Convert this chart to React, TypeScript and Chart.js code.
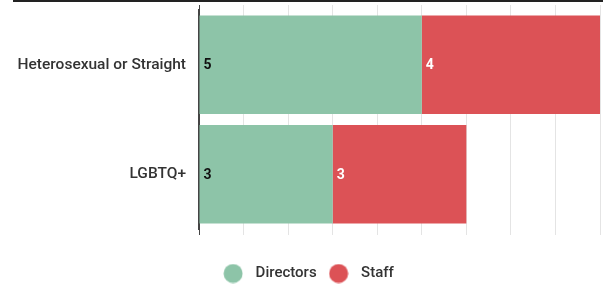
import React, { useEffect, useRef } from 'react';
import { Chart, registerables } from 'chart.js';

Chart.register(...registerables);

const categories = ['Heterosexual or Straight', 'LGBTQ+'];
const directors = [5, 3];
const staff = [4, 3];
const seriesNames = ['Directors', 'Staff'];
const seriesColors = ['#8dc4a8', '#dc5256'];
const valueLabelColors = ['#111111', '#ffffff'];
const xMin = 0;
const xMax = 9;

function makeDot(color: string) {
  const c = document.createElement('canvas');
  c.width = 20;
  c.height = 20;
  const g = c.getContext('2d')!;
  g.fillStyle = color;
  g.beginPath();
  g.arc(10, 10, 9.5, 0, Math.PI * 2);
  g.fill();
  return c;
}

const valueLabels = {
  id: 'valueLabels',
  afterDatasetsDraw(chart: any) {
    const ctx = chart.ctx;
    ctx.save();
    ctx.font = 'bold 14px Roboto';
    ctx.textBaseline = 'middle';
    ctx.textAlign = 'left';
    chart.data.datasets.forEach((ds: any, i: number) => {
      const meta = chart.getDatasetMeta(i);
      meta.data.forEach((bar: any, j: number) => {
        const p = bar.getProps(['x', 'y', 'base'], true);
        ctx.fillStyle = valueLabelColors[i];
        ctx.fillText(String(ds.data[j]), p.base + 4, p.y + 1);
      });
    });
    ctx.restore();
  },
};

export default function App() {
  const ref = useRef<HTMLCanvasElement | null>(null);

  useEffect(() => {
    if (!ref.current) return;
    Chart.defaults.font.family = 'Roboto';
    const dots = seriesColors.map(makeDot);
    const gridColor = (c: any) => (c.index === 0 ? '#444444' : '#e4e4e4');
    const chart = new Chart(ref.current, {
      type: 'bar',
      data: {
        labels: categories,
        datasets: [
          { label: seriesNames[0], data: directors, backgroundColor: seriesColors[0], borderWidth: 0, categoryPercentage: 0.9, barPercentage: 1 },
          { label: seriesNames[1], data: staff, backgroundColor: seriesColors[1], borderWidth: 0, categoryPercentage: 0.9, barPercentage: 1 },
        ],
      },
      options: {
        indexAxis: 'y',
        animation: false,
        responsive: true,
        maintainAspectRatio: false,
        layout: { autoPadding: false, padding: { top: 5, right: 3, bottom: -6, left: 12 } },
        scales: {
          x: {
            type: 'linear',
            stacked: true,
            position: 'bottom',
            min: xMin,
            max: xMax,
            ticks: { display: false, stepSize: 1 },
            grid: { color: gridColor, lineWidth: 1, tickLength: 6 },
            border: { display: false },
            title: { display: true, text: '', font: { size: 10, lineHeight: 1.2 }, padding: { top: 6, bottom: 6 } },
          },
          x2: {
            type: 'linear',
            position: 'top',
            min: xMin,
            max: xMax,
            ticks: { display: false, stepSize: 1 },
            grid: { color: gridColor, lineWidth: 1, tickLength: 5, drawOnChartArea: false },
            border: { display: false },
          },
          y: {
            stacked: true,
            grid: { display: false, drawTicks: false },
            border: { display: true, color: '#444444', width: 2 },
            ticks: { color: '#333333', font: { size: 15.5, weight: '500' }, padding: 13 },
            afterFit: (s: any) => {
              s.width = 187;
              s.paddingTop = 0;
              s.paddingBottom = 0;
            },
          },
        },
        plugins: {
          tooltip: { enabled: false },
          legend: {
            position: 'bottom',
            labels: {
              usePointStyle: true,
              pointStyleWidth: 30,
              padding: 7,
              color: '#333333',
              font: { size: 15, weight: '500' },
              generateLabels: (chart: any) => {
                const items = Chart.defaults.plugins.legend.labels.generateLabels(chart);
                return items.map((it: any, i: number) => ({ ...it, pointStyle: dots[i] }));
              },
            },
          },
        },
      },
      plugins: [valueLabels],
    } as any);
    return () => chart.destroy();
  }, []);

  return (
    <div style={{ position: 'fixed', left: 0, top: 0, width: 603, height: 285, background: '#fff' }}>
      <div style={{ position: 'absolute', left: 13, top: 0, width: 590, height: 2, background: '#222' }} />
      <canvas ref={ref} />
    </div>
  );
}
